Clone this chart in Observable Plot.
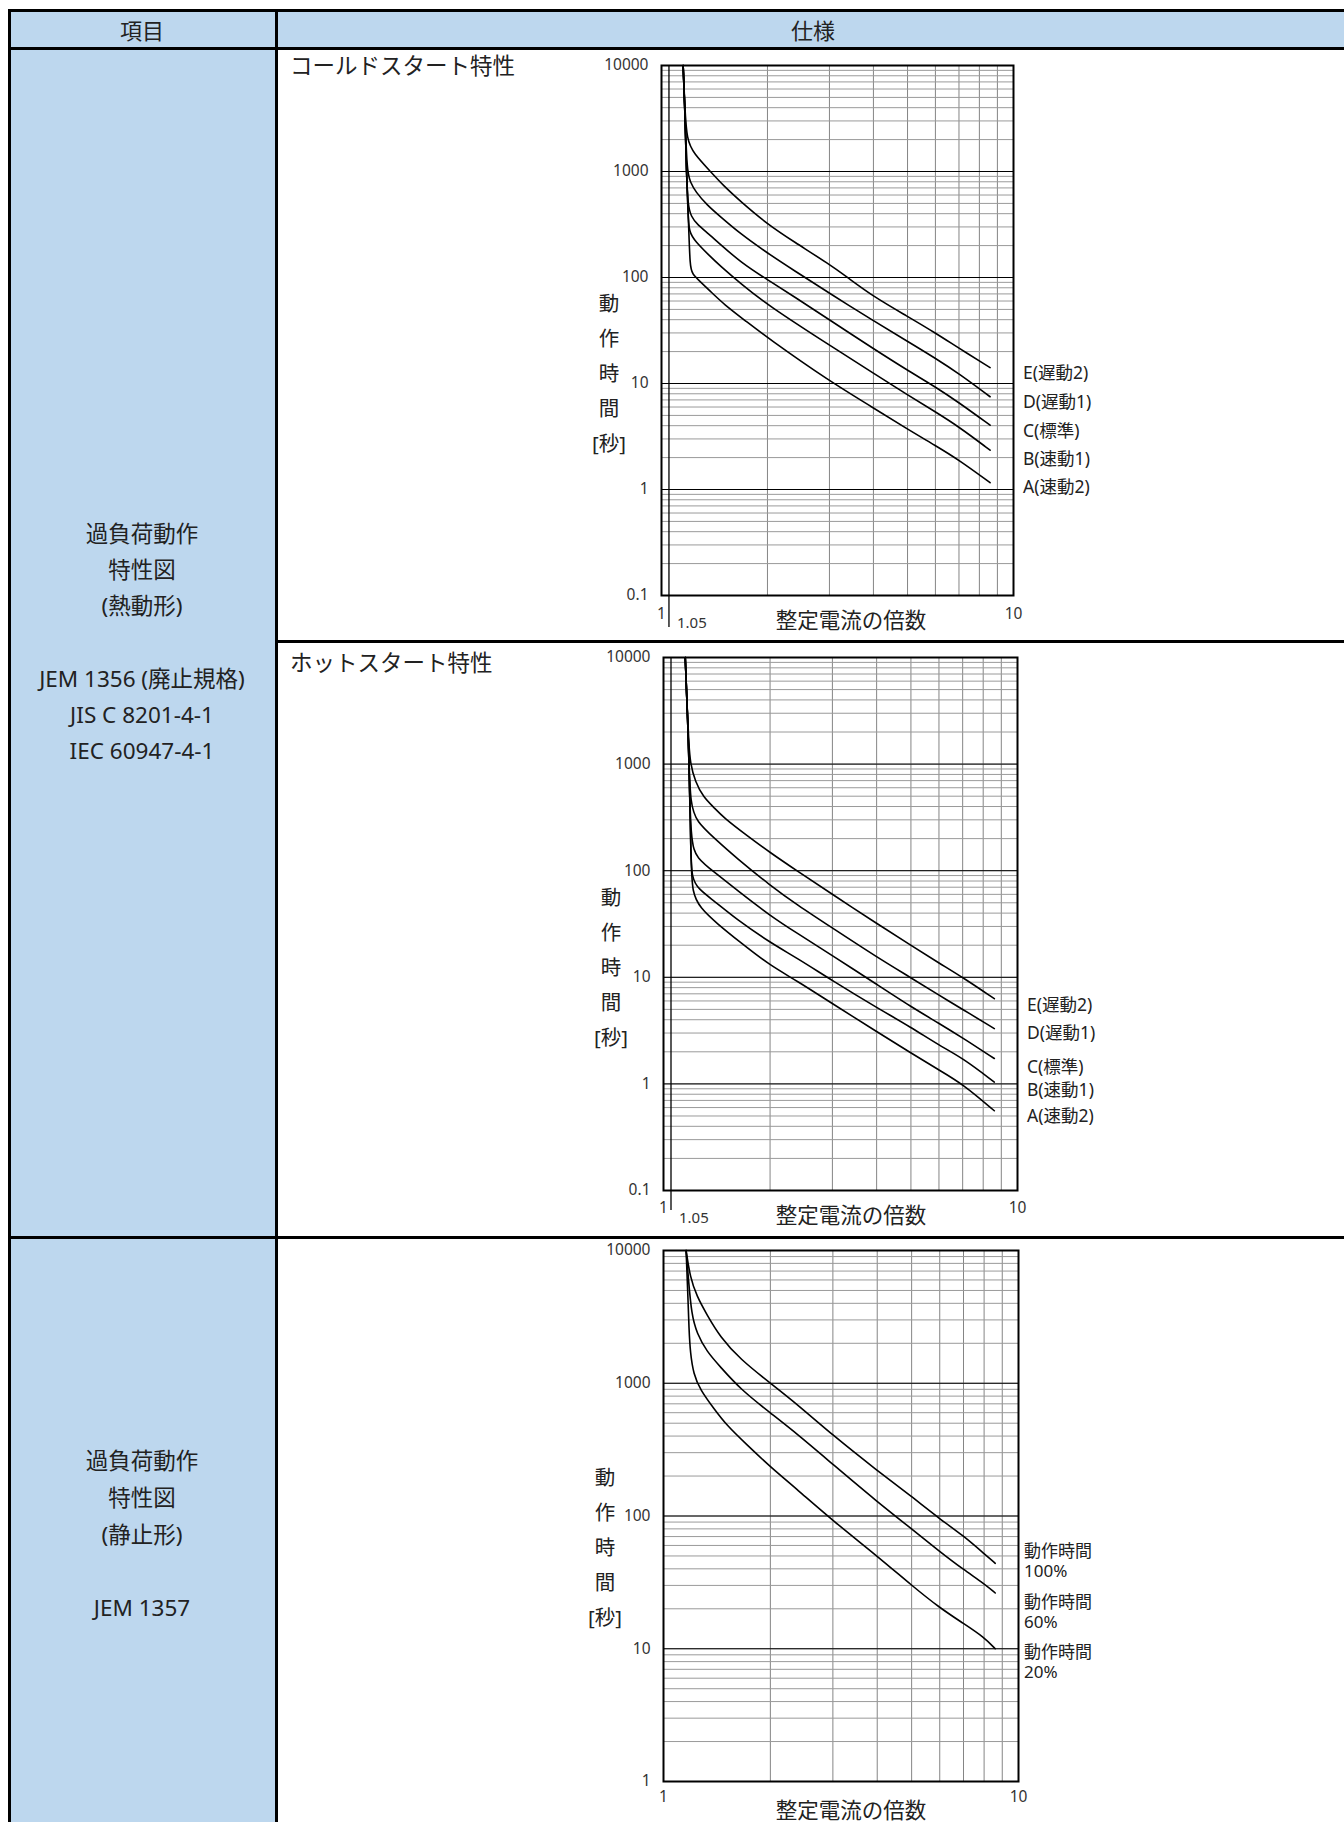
<!DOCTYPE html>
<html><head><meta charset="utf-8">
<script src="https://cdn.jsdelivr.net/npm/d3@7"></script>
<script src="https://cdn.jsdelivr.net/npm/@observablehq/plot@0.6"></script>
<style>
html,body{margin:0;padding:0;background:#fff;}
body{width:1344px;height:1822px;position:relative;overflow:hidden;font-family:"Noto Sans","Noto Sans CJK JP",sans-serif;color:#222;}
.a{position:absolute;white-space:pre;line-height:1;}
.c{transform:translate(-50%,-50%);}
.l{transform:translate(0,-50%);}
.bg{position:absolute;background:#BDD7EE;}
.ln{position:absolute;background:#000;}
.chart{position:absolute;}
.chart svg{overflow:visible;}
</style></head><body>
<div id="root"></div>
<script>
// ---------- data ----------
const yTicksThermal = [0.1, 1, 10, 100, 1000, 10000];
const yTicksStatic = [1, 10, 100, 1000, 10000];
const xTicks = [1, 10];
const settingMark = 1.05;
const thermalNames = ["E(遅動2)", "D(遅動1)", "C(標準)", "B(速動1)", "A(速動2)"];
const staticNames = ["動作時間\n100%", "動作時間\n60%", "動作時間\n20%"];

// cold start (x = multiple of setting current, y = seconds)
const coldE = [[1.152,10000],[1.165,4000],[1.18,1977],[1.235,1479],[1.377,1000],[1.503,729],[1.676,523],[2,318],[2.375,218],[3,133],[3.365,101],[4,66],[5,43],[6,30],[7,21.5],[8.58,14.1]];
const coldD = [[1.152,10000],[1.165,4000],[1.18,1000],[1.208,793],[1.249,644],[1.348,481],[1.47,375],[1.676,258],[2,170],[2.375,117],[3,71],[4,39],[5,25],[6,17.3],[7,12.4],[8.58,7.5]];
const coldC = [[1.152,10000],[1.165,4000],[1.177,1000],[1.188,481],[1.214,375],[1.262,318],[1.362,258],[1.47,205],[1.676,140],[2,95],[2.375,66.5],[3,39.8],[4,21.3],[5,13.3],[6,9.3],[7,6.6],[8.58,4.04]];
const coldB = [[1.152,10000],[1.165,4000],[1.177,1000],[1.19,400],[1.196,269],[1.249,218],[1.362,163],[1.47,128],[1.676,88],[2,55],[3,23],[4,12.5],[5,7.8],[6,5.4],[7,3.9],[8.58,2.35]];
const coldA = [[1.152,10000],[1.165,4000],[1.177,1000],[1.195,300],[1.205,127],[1.222,108],[1.29,91],[1.377,74],[1.503,56],[1.75,38],[2,27],[3,10.5],[4,5.9],[5,3.7],[6,2.6],[7,1.9],[8.58,1.16]];

// hot start
const hotE = [[1.152,10000],[1.168,3000],[1.18,1500],[1.19,1030],[1.229,681],[1.297,490],[1.385,395],[1.478,315],[1.72,214],[2,148],[2.38,100],[3,60],[4,32],[5,20],[6,13.6],[7,10],[8.6,6.3]];
const hotD = [[1.152,10000],[1.168,3000],[1.18,1200],[1.19,415],[1.243,286],[1.385,205],[1.61,130.6],[2,73],[2.38,48],[3,29],[4,15.5],[5,9.9],[6,6.8],[7,5.0],[8.6,3.3]];
const hotC = [[1.152,10000],[1.168,3000],[1.18,1200],[1.192,182],[1.243,131],[1.385,98],[1.61,66],[2,37.8],[2.38,26],[3,16],[4,8.6],[5,5.3],[6,3.7],[7,2.7],[8.6,1.73]];
const hotB = [[1.152,10000],[1.168,3000],[1.18,1200],[1.195,150],[1.2,86],[1.256,67],[1.385,52.6],[1.61,34.8],[2,21.2],[2.38,15.2],[3,9.3],[4,5.2],[5,3.4],[6,2.3],[7,1.75],[8.6,1.04]];
const hotA = [[1.152,10000],[1.168,3000],[1.18,1200],[1.196,120],[1.205,62],[1.27,44.6],[1.415,32],[1.65,21.2],[2,12.9],[2.38,9.3],[3,5.65],[4,3.1],[5,1.95],[6,1.35],[7,1.0],[8.6,0.56]];

// static type
const static100 = [[1.158,10000],[1.189,6252],[1.241,4530],[1.325,3284],[1.444,2233],[1.644,1517],[2,1000],[2.37,701],[3,405],[4,220],[5,140],[6,95],[7,71],[8,52],[8.6,44]];
const static60 = [[1.158,10000],[1.176,6000],[1.2,3284],[1.241,2381],[1.325,1727],[1.444,1334],[1.644,906],[2,597],[2.37,419],[3,245],[4,128],[5,80],[6,54],[7,39.5],[8,31],[8.6,26.3]];
const static20 = [[1.158,10000],[1.17,5000],[1.18,2500],[1.19,1700],[1.215,1172],[1.27,890],[1.383,650],[1.508,480],[1.716,345],[2,234],[2.37,160],[3,92],[4,50],[5,30],[6,20.3],[7,15.5],[8,12.2],[8.6,10]];

// ---------- layout helpers ----------
const root = document.getElementById("root");
function el(cls, css, html) {
  const d = document.createElement("div");
  d.className = cls;
  Object.assign(d.style, css);
  if (html != null) d.textContent = html;
  root.appendChild(d);
  return d;
}
function textC(t, x, y, size) { return el("a c", {left: x + "px", top: y + "px", fontSize: size + "px"}, t); }
function textL(t, x, y, size, lh) { return el("a l", {left: x + "px", top: y + "px", fontSize: size + "px", lineHeight: lh ? lh + "px" : "1"}, t); }

// table backgrounds
el("bg", {left: "9px", top: "11px", width: "1335px", height: "38px"});
el("bg", {left: "9px", top: "49px", width: "267px", height: "1773px"});
// table lines
el("ln", {left: "8px", top: "9px", width: "1336px", height: "3px"});
el("ln", {left: "8px", top: "47px", width: "1336px", height: "3px"});
el("ln", {left: "8px", top: "9px", width: "3px", height: "1813px"});
el("ln", {left: "275px", top: "9px", width: "3px", height: "1813px"});
el("ln", {left: "275px", top: "640px", width: "1069px", height: "3px"});
el("ln", {left: "8px", top: "1236px", width: "1336px", height: "3px"});

// header
textC("項目", 142, 30, 22);
textC("仕様", 813, 30, 22);

// left column texts
const thermalLeft = ["過負荷動作", "特性図", "(熱動形)", "JEM 1356 (廃止規格)", "JIS C 8201-4-1", "IEC 60947-4-1"];
const thermalLeftY = [534, 570, 606, 679, 715, 751];
thermalLeft.forEach((t, i) => textC(t, 142, thermalLeftY[i], 22.5));
const staticLeft = ["過負荷動作", "特性図", "(静止形)", "JEM 1357"];
const staticLeftY = [1461, 1498, 1535, 1608];
staticLeft.forEach((t, i) => textC(t, 142, staticLeftY[i], 22.5));

// row titles
textL("コールドスタート特性", 290, 66, 22.5);
textL("ホットスタート特性", 290, 663, 22.5);

// ---------- charts ----------
function makeChart(o) {
  const data = o.curves.flatMap((c, i) => c.map(([x, y]) => ({x, y, s: i})));
  const marks = [
    Plot.gridX({ticks: 10, stroke: "#858585", strokeOpacity: 1, strokeWidth: 1}),
    Plot.gridY({ticks: 10, stroke: "#9a9a9a", strokeOpacity: 1, strokeWidth: 1}),
    Plot.gridY(o.yTicks, {stroke: "#000", strokeOpacity: 1, strokeWidth: 1})
  ];
  if (o.rule) {
    marks.push(Plot.ruleX([{x: settingMark, y1: o.ruleLow, y2: o.yTicks[o.yTicks.length - 1]}], {x: "x", y1: "y1", y2: "y2", stroke: "#000", strokeWidth: 1.3}));
    marks.push(Plot.text([{x: settingMark, y: o.yTicks[0], t: String(settingMark)}], {x: "x", y: "y", text: "t", dx: 8, dy: 28, textAnchor: "start", fontSize: 15, fill: "#333"}));
  }
  marks.push(
    Plot.line(data, {x: "x", y: "y", z: "s", curve: "basis", stroke: "#000", strokeWidth: 1.6}),
    Plot.frame({stroke: "#000", strokeWidth: 2}),
    Plot.axisY({ticks: o.yTicks, tickSize: 0, tickPadding: 13, tickFormat: d => String(d), label: null, fontSize: 15.5, fill: "#333"}),
    Plot.axisX({ticks: xTicks, tickSize: 0, tickPadding: o.xPad, tickFormat: d => String(d), label: null, fontSize: 15.5, fill: "#333"})
  );
  const svg = Plot.plot({
    width: o.width, height: o.height,
    marginLeft: o.mL, marginRight: o.mR, marginTop: o.mT, marginBottom: o.mB,
    x: {type: "log", domain: [1, 10]},
    y: {type: "log", domain: [o.yTicks[0], o.yTicks[o.yTicks.length - 1]]},
    style: {fontFamily: '"Noto Sans","Noto Sans CJK JP",sans-serif', fontSize: "15px", color: "#333", background: "transparent", overflow: "visible"},
    marks
  });
  const wrap = el("chart", {left: o.left + "px", top: o.top + "px"});
  wrap.appendChild(svg);
  // axis titles
  const yl = ["動", "作", "時", "間", "[秒]"];
  yl.forEach((t, i) => textC(t, o.yTitleX, o.yTitleY + i * 35, 20.5));
  textC("整定電流の倍数", 851, o.xTitleY, 21.5);
}

// cold: frame x 661–1013, y 65–595
makeChart({curves: [coldE, coldD, coldC, coldB, coldA], yTicks: yTicksThermal, rule: true, ruleLow: 0.05,
  left: 540, top: 49, width: 483, height: 590, mL: 121, mR: 10, mT: 16, mB: 44, xPad: 12,
  yTitleX: 609, yTitleY: 303, xTitleY: 620});
thermalNames.forEach((t, i) => textL(t, 1023, [373, 402, 431, 459, 487][i], 17.5));

// hot: frame x 663–1017, y 657–1190
makeChart({curves: [hotE, hotD, hotC, hotB, hotA], yTicks: yTicksThermal, rule: true, ruleLow: 0.065,
  left: 540, top: 643, width: 487, height: 594, mL: 123, mR: 10, mT: 14, mB: 47, xPad: 11,
  yTitleX: 611, yTitleY: 897, xTitleY: 1215});
thermalNames.forEach((t, i) => textL(t, 1027, [1005, 1033, 1067, 1090, 1116][i], 17.5));

// static: frame x 663–1018, y 1250–1781
makeChart({curves: [static100, static60, static20], yTicks: yTicksStatic, rule: false,
  left: 540, top: 1239, width: 488, height: 583, mL: 123, mR: 10, mT: 11, mB: 41, xPad: 9,
  yTitleX: 605, yTitleY: 1477, xTitleY: 1810});
staticNames.forEach((t, i) => textL(t, 1024, [1561, 1612, 1662][i], 17, 20));
</script>
</body></html>
